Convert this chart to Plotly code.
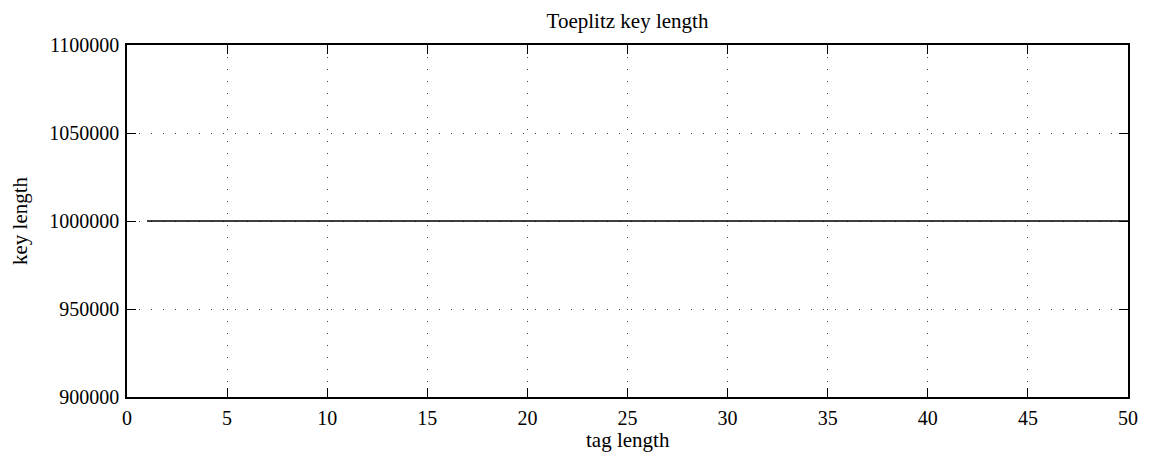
import plotly.graph_objects as go

tag_length = list(range(1, 51))
key_length = [1000000] * len(tag_length)
x_ticks = [0, 5, 10, 15, 20, 25, 30, 35, 40, 45, 50]
y_ticks = [900000, 950000, 1000000, 1050000, 1100000]

font = "Liberation Serif, DejaVu Serif, serif"
W, H = 1142, 453

fig = go.Figure()
fig.add_trace(go.Scatter(x=tag_length, y=key_length, mode="lines",
                         line=dict(color="black", width=1.5), showlegend=False))

axis_common = dict(showline=True, linecolor="black", linewidth=1.5, mirror="ticks",
                   ticks="inside", ticklen=9, tickcolor="black", tickwidth=1,
                   showgrid=True, gridcolor="#444444", griddash="1px,11px", gridwidth=1,
                   zeroline=False, tickfont=dict(family=font, size=20, color="black"))

fig.update_layout(
    width=W, height=H,
    margin=dict(l=119, r=20, t=37, b=64),
    paper_bgcolor="white", plot_bgcolor="white",
    title=dict(text="Toeplitz key length", x=0.5, xanchor="center", xref="paper",
               y=1 - 13 / H, yanchor="middle",
               font=dict(family=font, size=21, color="black")),
    xaxis=dict(range=[0, 50], tickvals=x_ticks, ticktext=[str(v) for v in x_ticks],
               ticklabelstandoff=2, **axis_common),
    yaxis=dict(range=[900000, 1100000], tickvals=y_ticks, ticktext=[str(v) for v in y_ticks],
               ticklabelstandoff=2, **axis_common),
    annotations=[
        dict(text="tag length", xref="paper", yref="paper", x=0.5, y=0, xanchor="center",
             yanchor="middle", yshift=-43, showarrow=False,
             font=dict(family=font, size=21, color="black")),
        dict(text="key length", xref="paper", yref="paper", x=0, y=0.5, xanchor="center",
             yanchor="middle", xshift=-107, textangle=-90, showarrow=False,
             font=dict(family=font, size=21, color="black")),
    ],
)
fig.write_html("out.html")
